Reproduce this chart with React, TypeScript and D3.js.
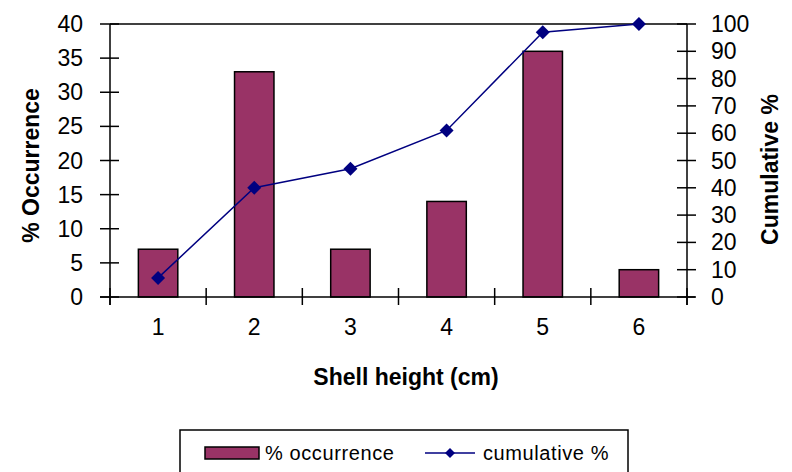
import React from "react";
import * as d3 from "d3";

const categories = ["1", "2", "3", "4", "5", "6"];
const occurrence = [7, 33, 7, 14, 36, 4];
const cumulative = [7, 40, 47, 61, 97, 100];
const leftTicks = [0, 5, 10, 15, 20, 25, 30, 35, 40];
const rightTicks = [0, 10, 20, 30, 40, 50, 60, 70, 80, 90, 100];

const W = 792;
const H = 472;
const plot = { left: 110, right: 687, top: 24, bottom: 297 };
const FONT = "'Liberation Sans', Arial, sans-serif";
const BAR = "#993366";
const LINE = "#000080";

export default function App() {
  const x = d3
    .scaleBand<string>()
    .domain(categories)
    .range([plot.left, plot.right])
    .paddingInner(0.59)
    .paddingOuter(0.295);
  const step = x.step();
  const yL = d3.scaleLinear().domain([0, 40]).range([plot.bottom, plot.top]);
  const yR = d3.scaleLinear().domain([0, 100]).range([plot.bottom, plot.top]);
  const cx = (c: string) => (x(c) ?? 0) + x.bandwidth() / 2;

  const line = d3
    .line<number>()
    .x((_, i) => cx(categories[i]))
    .y((d) => yR(d));

  const diamond = (px: number, py: number, r = 7) =>
    `M${px},${py - r}L${px + r},${py}L${px},${py + r}L${px - r},${py}Z`;

  const boundaries = d3.range(categories.length + 1).map((i) => plot.left + i * step);

  return (
    <svg
      width={W}
      height={H}
      style={{ position: "absolute", left: 0, top: 0, background: "#fff" }}
      fontFamily={FONT}
    >
      <rect x={0} y={0} width={W} height={H} fill="#fff" />

      {/* bars */}
      {occurrence.map((v, i) => (
        <rect
          key={i}
          x={x(categories[i])}
          y={yL(v)}
          width={x.bandwidth()}
          height={yL(0) - yL(v)}
          fill={BAR}
          stroke="#000"
          strokeWidth={1.5}
        />
      ))}

      {/* frame top */}
      <line x1={plot.left} x2={plot.right} y1={plot.top} y2={plot.top} stroke="#000" strokeWidth={1.5} />

      {/* x axis */}
      <line x1={plot.left - 10} x2={plot.right + 8} y1={plot.bottom} y2={plot.bottom} stroke="#000" strokeWidth={1.5} />
      {boundaries.map((bx, i) => (
        <line key={i} x1={bx} x2={bx} y1={plot.bottom - 9} y2={plot.bottom + 8} stroke="#000" strokeWidth={1.5} />
      ))}
      {categories.map((c) => (
        <text key={c} x={cx(c)} y={335} textAnchor="middle" fontSize={23} fill="#000">
          {c}
        </text>
      ))}

      {/* left axis */}
      <line x1={plot.left} x2={plot.left} y1={plot.top} y2={plot.bottom + 8} stroke="#000" strokeWidth={1.5} />
      {leftTicks.map((t) => (
        <g key={t}>
          <line x1={plot.left - 10} x2={plot.left + 9} y1={yL(t)} y2={yL(t)} stroke="#000" strokeWidth={1.5} />
          <text x={83} y={yL(t) + 8} textAnchor="end" fontSize={23} fill="#000">
            {t}
          </text>
        </g>
      ))}

      {/* right axis */}
      <line x1={plot.right} x2={plot.right} y1={plot.top} y2={plot.bottom + 8} stroke="#000" strokeWidth={1.5} />
      {rightTicks.map((t) => (
        <g key={t}>
          <line x1={plot.right - 10} x2={plot.right + 9} y1={yR(t)} y2={yR(t)} stroke="#000" strokeWidth={1.5} />
          <text x={711} y={yR(t) + 8} textAnchor="start" fontSize={23} fill="#000">
            {t}
          </text>
        </g>
      ))}

      {/* cumulative line */}
      <path d={line(cumulative) ?? ""} fill="none" stroke={LINE} strokeWidth={1.5} />
      {cumulative.map((v, i) => (
        <path key={i} d={diamond(cx(categories[i]), yR(v))} fill={LINE} />
      ))}

      {/* axis titles */}
      <text
        transform={`translate(39,${(plot.top + plot.bottom) / 2 + 5}) rotate(-90)`}
        textAnchor="middle"
        fontSize={23}
        fontWeight="bold"
        fill="#000"
      >
        % Occurrence
      </text>
      <text
        transform={`translate(778,${(plot.top + plot.bottom) / 2 + 9}) rotate(-90)`}
        textAnchor="middle"
        fontSize={23}
        fontWeight="bold"
        fill="#000"
      >
        Cumulative %
      </text>
      <text x={406} y={385} textAnchor="middle" fontSize={23} fontWeight="bold" fill="#000">
        Shell height (cm)
      </text>

      {/* legend */}
      <rect x={180} y={430} width={448} height={60} fill="#fff" stroke="#000" strokeWidth={1.5} />
      <rect x={205} y={447} width={54} height={12} fill={BAR} stroke="#000" strokeWidth={1.5} />
      <text x={265} y={460} fontSize={20} letterSpacing={0.6} fill="#000">
        % occurrence
      </text>
      <line x1={425} x2={475} y1={453} y2={453} stroke={LINE} strokeWidth={1.5} />
      <path d={diamond(450, 453, 5)} fill={LINE} />
      <text x={483} y={460} fontSize={20} letterSpacing={0.6} fill="#000">
        cumulative %
      </text>
    </svg>
  );
}
